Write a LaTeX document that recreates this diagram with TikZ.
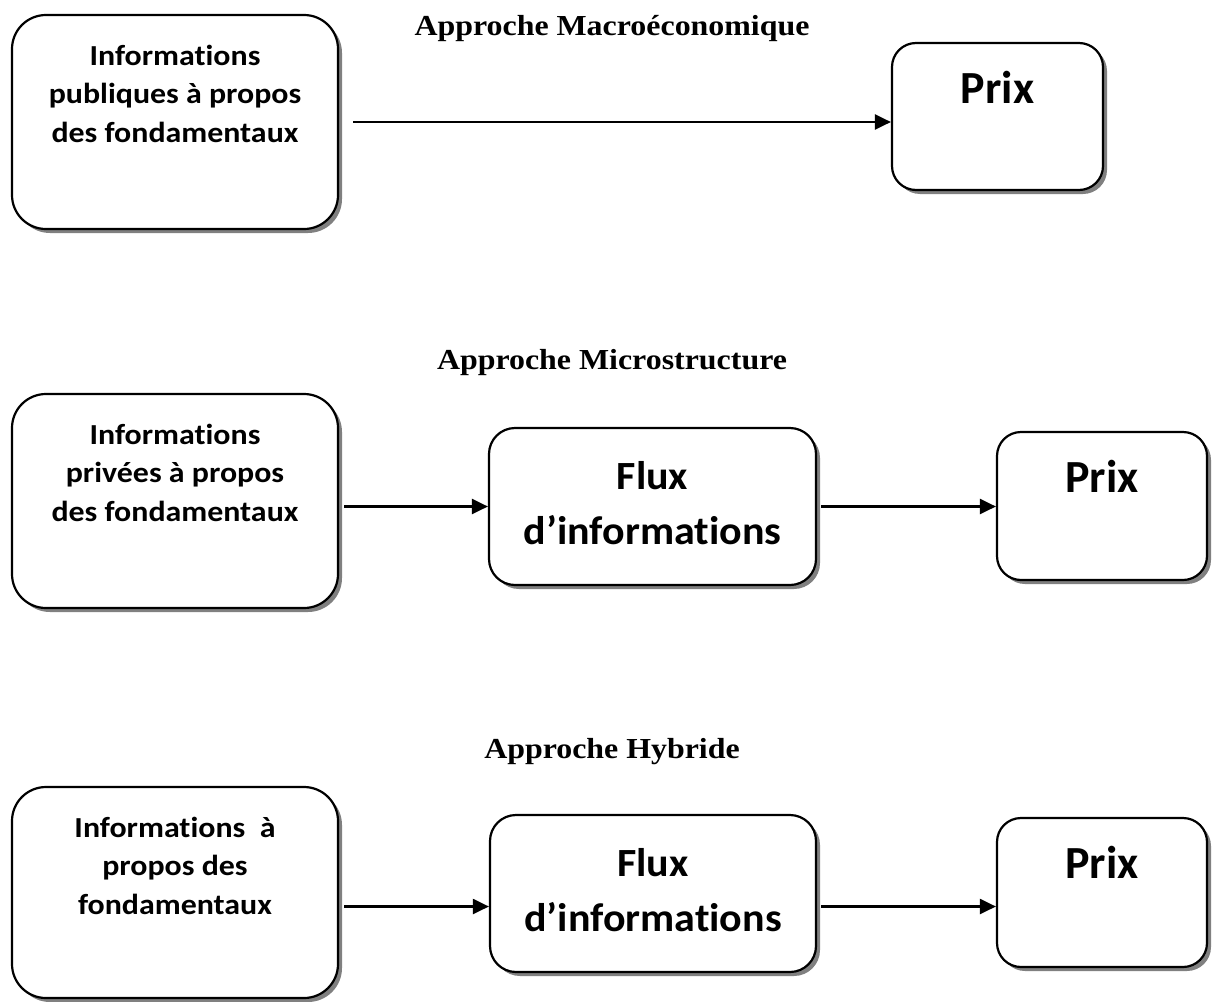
\documentclass[tikz,border=0pt]{standalone}
\usepackage{fontspec}
\newfontfamily\boxfont{Carlito}[FakeStretch=1.1, Ligatures=NoCommon]
\newfontfamily\fluxfont{Carlito}[FakeStretch=1.05, Ligatures=NoCommon]
\newfontfamily\prixfont{Carlito}[Ligatures=NoCommon]
\newfontfamily\ttlfont{Liberation Serif}[FakeStretch=1.1]
\usetikzlibrary{arrows.meta,positioning,shadows}

\begin{document}
\begin{tikzpicture}[x=1pt, y=-1pt,
  box/.style={draw=black, line width=2.2pt, fill=white, inner sep=0pt,
              rounded corners=#1,
              drop shadow={shadow xshift=4pt, shadow yshift=-4pt,
                           fill=black!50, opacity=1}},
  box/.default=26pt,
  info/.style={font=\boxfont\bfseries\fontsize{29}{38.5}\selectfont,
               align=center, inner sep=0pt},
  flux/.style={font=\fluxfont\bfseries\fontsize{40}{55}\selectfont,
               align=center, inner sep=0pt},
  prix/.style={font=\prixfont\bfseries\fontsize{46}{55}\selectfont,
               inner sep=0pt},
  ttl/.style={font=\ttlfont\bfseries\fontsize{29}{34}\selectfont,
              inner sep=0pt, anchor=base},
  arr/.style={-{Triangle[length=16pt,width=15pt]}, line width=2.2pt},
]
  \useasboundingbox (0,0) rectangle (1214,1001);

  % Approche macroeconomique
  \node[ttl] (ttl1) at (612,35) {Approche Macroéconomique};
  \node[box=34pt, minimum width=326pt, minimum height=214pt] (info1) at (175,122) {};
  \node[info, below=31pt of info1.north] (info1txt)
    {Informations\\publiques à propos\\des fondamentaux};
  \node[box=24pt, minimum width=211pt, minimum height=147pt] (prix1) at (997.5,116.5) {};
  \node[prix, below=29pt of prix1.north] (prix1txt) {Prix};
  \draw[arr, shorten <=14pt] (info1.east) -- (info1.east -| prix1.west);

  % Approche microstructure
  \node[ttl] (ttl2) at (612,369) {Approche Microstructure};
  \node[box=34pt, minimum width=326pt, minimum height=214pt] (info2) at (175,501) {};
  \node[info, below=31pt of info2.north] (info2txt)
    {Informations\\privées à propos\\des fondamentaux};
  \node[box, minimum width=327pt, minimum height=157pt] (flux2) at (652.5,506.5) {};
  \node[flux, below=34pt of flux2.north] (flux2txt) {Flux\\d’informations};
  \node[box=24pt, minimum width=210pt, minimum height=148pt] (prix2) at (1102,506) {};
  \node[prix, below=29pt of prix2.north] (prix2txt) {Prix};
  \draw[arr, shorten <=5pt] (info2.east |- flux2.west) -- (flux2.west);
  \draw[arr, shorten <=4pt] (flux2.east) -- (flux2.east -| prix2.west);

  % Approche hybride
  \node[ttl] (ttl3) at (612,758) {Approche Hybride};
  \node[box=34pt, minimum width=326pt, minimum height=211pt] (info3) at (175,892.5) {};
  \node[info, below=31pt of info3.north] (info3txt)
    {Informations\ \ à\\propos des\\fondamentaux};
  \node[box, minimum width=326pt, minimum height=157pt] (flux3) at (653,893.5) {};
  \node[flux, below=34pt of flux3.north] (flux3txt) {Flux\\d’informations};
  \node[box=24pt, minimum width=210pt, minimum height=149pt] (prix3) at (1102,892.5) {};
  \node[prix, below=29pt of prix3.north] (prix3txt) {Prix};
  \coordinate (lvl3) at ([yshift=-13pt]flux3.west);
  \draw[arr, shorten <=5pt] (info3.east |- lvl3) -- (lvl3);
  \draw[arr, shorten <=4pt] (flux3.east |- lvl3) -- (lvl3 -| prix3.west);
\end{tikzpicture}
\end{document}
